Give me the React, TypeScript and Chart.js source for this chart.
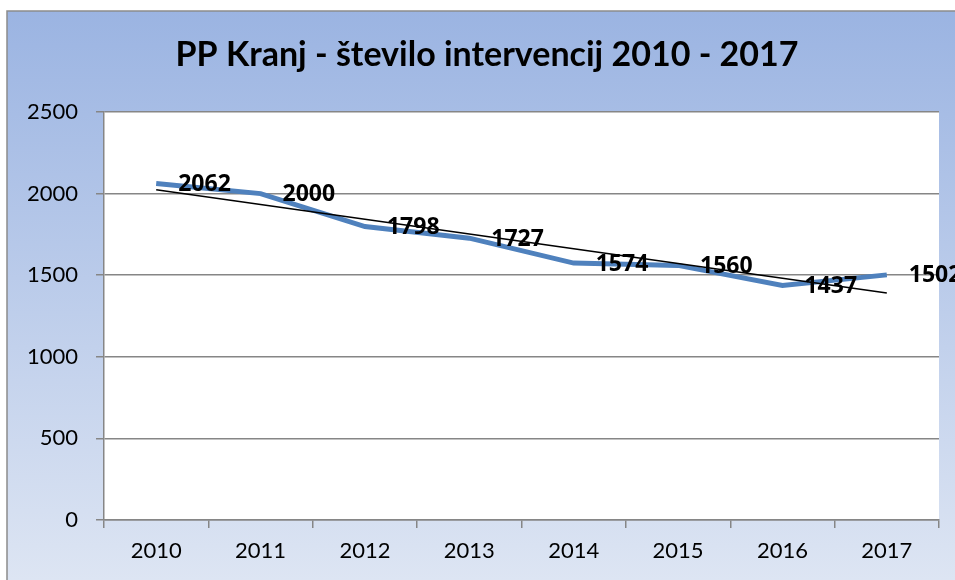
import React, { useEffect, useRef } from "react";
import { Chart, registerables } from "chart.js";

Chart.register(...registerables);

const title = "PP Kranj - število intervencij 2010 - 2017";
const years = ["2010", "2011", "2012", "2013", "2014", "2015", "2016", "2017"];
const interventions = [2062, 2000, 1798, 1727, 1574, 1560, 1437, 1502];
// linear trend line end points
const trendValues = [2024, null, null, null, null, null, null, 1391];
const yMin = 0;
const yMax = 2500;
const yStep = 500;

const FONT = "Lato, 'Open Sans', sans-serif";
const LABEL_FONT = "'Open Sans', Lato, sans-serif";

export default function App() {
  const ref = useRef<HTMLCanvasElement | null>(null);

  useEffect(() => {
    document.body.style.margin = "0";
    const canvas = ref.current;
    if (!canvas) return;

    const backgroundPlugin = {
      id: "bg",
      beforeDraw(chart: any) {
        const { ctx, width, height, chartArea } = chart;
        ctx.save();
        ctx.fillStyle = "#ffffff";
        ctx.fillRect(0, 0, width, height);
        const g = ctx.createLinearGradient(0, 11, 0, height);
        g.addColorStop(0, "#9bb4e2");
        g.addColorStop(1, "#dde5f3");
        ctx.fillStyle = g;
        ctx.fillRect(7, 11, width - 7, height - 11);
        ctx.strokeStyle = "#8c8c8c";
        ctx.lineWidth = 1.5;
        ctx.beginPath();
        ctx.moveTo(7, height);
        ctx.lineTo(7, 11);
        ctx.lineTo(width, 11);
        ctx.stroke();
        ctx.fillStyle = "#ffffff";
        ctx.fillRect(chartArea.left, chartArea.top, chartArea.right - chartArea.left, chartArea.bottom - chartArea.top);
        // title
        ctx.fillStyle = "#000000";
        ctx.font = `bold 34px ${FONT}`;
        ctx.textAlign = "center";
        ctx.textBaseline = "middle";
        ctx.fillText(title, 487, 55);
        ctx.restore();
      },
    };

    const labelPlugin = {
      id: "labels",
      afterDatasetsDraw(chart: any) {
        const { ctx } = chart;
        const meta = chart.getDatasetMeta(0);
        ctx.save();
        ctx.fillStyle = "#000000";
        ctx.font = `bold 23px ${LABEL_FONT}`;
        ctx.textAlign = "left";
        ctx.textBaseline = "middle";
        meta.data.forEach((el: any, i: number) => {
          ctx.fillText(String(interventions[i]), el.x + 22, el.y + 1);
        });
        ctx.restore();
      },
    };

    const chart = new Chart(canvas, {
      type: "line",
      data: {
        labels: years,
        datasets: [
          {
            data: interventions,
            borderColor: "#4f81bd",
            borderWidth: 5,
            pointRadius: 0,
            tension: 0,
            order: 2,
          },
          {
            data: trendValues as any,
            borderColor: "#000000",
            borderWidth: 1.5,
            pointRadius: 0,
            spanGaps: true,
            tension: 0,
            order: 1,
          },
        ],
      },
      options: {
        responsive: false,
        animation: false,
        layout: { padding: { left: 0, top: 112, right: 16, bottom: 0 } },
        plugins: {
          legend: { display: false },
          tooltip: { enabled: false },
          title: { display: false },
        },
        scales: {
          x: {
            offset: true,
            afterFit(scale: any) {
              scale.height = 60;
            },
            grid: {
              offset: true,
              drawOnChartArea: false,
              drawTicks: true,
              tickLength: 8,
              color: "#868686",
              lineWidth: 1.5,
            },
            border: { color: "#868686", width: 1.5 },
            ticks: {
              color: "#000000",
              font: { family: FONT, size: 22 },
              padding: 10,
              maxRotation: 0,
            },
          },
          y: {
            min: yMin,
            max: yMax,
            afterFit(scale: any) {
              scale.width = 104;
            },
            grid: {
              color: "#868686",
              lineWidth: 1.5,
              drawTicks: true,
              tickLength: 8,
            },
            border: { color: "#868686", width: 1.5 },
            ticks: {
              stepSize: yStep,
              color: "#000000",
              font: { family: FONT, size: 22 },
              padding: 18,
              callback: (v: any) => String(v),
            },
          },
        },
      },
      plugins: [backgroundPlugin, labelPlugin],
    });

    return () => chart.destroy();
  }, []);

  return (
    <div style={{ width: 955, height: 580 }}>
      <canvas ref={ref} width={955} height={580} style={{ display: "block" }} />
    </div>
  );
}
